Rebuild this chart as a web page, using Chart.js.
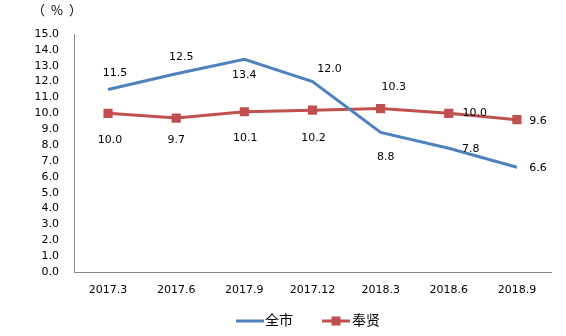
<!DOCTYPE html>
<html>
<head>
<meta charset="utf-8">
<script src="https://cdn.jsdelivr.net/npm/chart.js@4.4.0/dist/chart.umd.min.js"></script>
<style>
  html, body { margin: 0; padding: 0; background: #fff; }
  #wrap { width: 566px; height: 336px; }
</style>
</head>
<body>
<div id="wrap"><canvas id="c" width="566" height="336"></canvas></div>
<script>
// data
var months = ['2017.3', '2017.6', '2017.9', '2017.12', '2018.3', '2018.6', '2018.9'];
var cityVals = [11.5, 12.5, 13.4, 12.0, 8.8, 7.8, 6.6];     // 全市
var fengxianVals = [10.0, 9.7, 10.1, 10.2, 10.3, 10.0, 9.6]; // 奉贤
var seriesNames = ['全市', '奉贤'];
var unitLabel = '（%）';

// label nudges (px) per point, like the original layout
var cityOff = [[7, -16], [5, -17], [0, 16], [17, -12], [5, 25], [22, 1], [21, 1]];
var fxOff = [[2, 27], [0, 22], [1, 26], [1, 28], [13, -21], [26, 0], [21, 1]];

var blue = '#4F81BD';
var red = '#C0504D';
var numFont = '11px "DejaVu Sans"';

var labelPlugin = {
  id: 'labels',
  afterDatasetsDraw: function(chart) {
    var ctx = chart.ctx;
    ctx.save();
    ctx.font = numFont;
    ctx.fillStyle = '#000';
    ctx.textAlign = 'center';
    ctx.textBaseline = 'middle';
    var offs = [cityOff, fxOff];
    chart.data.datasets.forEach(function(ds, i) {
      chart.getDatasetMeta(i).data.forEach(function(pt, j) {
        ctx.fillText(ds.data[j].toFixed(1), pt.x + offs[i][j][0], pt.y + offs[i][j][1]);
      });
    });

    // unit text above the y axis
    ctx.font = '13px "Noto Sans CJK SC"';
    ctx.textAlign = 'left';
    ctx.letterSpacing = '6px';
    ctx.fillText(unitLabel, 32, chart.chartArea.top - 24);
    ctx.letterSpacing = '0px';

    // legend
    var ly = 321;
    var x0 = 236;
    ctx.lineWidth = 3;
    ctx.strokeStyle = blue;
    ctx.beginPath(); ctx.moveTo(x0, ly); ctx.lineTo(x0 + 28, ly); ctx.stroke();
    ctx.font = '14px "Noto Sans CJK SC"';
    ctx.fillStyle = '#000';
    ctx.fillText(seriesNames[0], x0 + 29, ly - 1);
    var x1 = 322;
    ctx.strokeStyle = red;
    ctx.beginPath(); ctx.moveTo(x1, ly); ctx.lineTo(x1 + 28, ly); ctx.stroke();
    ctx.fillStyle = red;
    ctx.fillRect(x1 + 14 - 4.5, ly - 4.5, 9, 9);
    ctx.fillStyle = '#000';
    ctx.fillText(seriesNames[1], x1 + 30, ly - 1);
    ctx.restore();
  }
};

new Chart(document.getElementById('c'), {
  type: 'line',
  data: {
    labels: months,
    datasets: [
      {
        label: seriesNames[0],
        data: cityVals,
        borderColor: blue,
        backgroundColor: blue,
        borderWidth: 3,
        pointRadius: 0,
        tension: 0
      },
      {
        label: seriesNames[1],
        data: fengxianVals,
        borderColor: red,
        backgroundColor: red,
        borderWidth: 3,
        pointStyle: 'rect',
        pointRadius: 6.5,
        pointBorderWidth: 0,
        tension: 0
      }
    ]
  },
  options: {
    responsive: false,
    animation: false,
    layout: { padding: { left: 0, right: 15, top: 34, bottom: 0 } },
    plugins: {
      legend: { display: false },
      tooltip: { enabled: false }
    },
    scales: {
      x: {
        offset: true,
        grid: { display: false, drawTicks: false },
        border: { display: true, color: '#868686', width: 1 },
        ticks: { color: '#000', font: { family: 'DejaVu Sans', size: 11 }, padding: 12, maxRotation: 0, autoSkip: false },
        afterFit: function(s) { s.height = 64; }
      },
      y: {
        min: 0,
        max: 15,
        grid: { display: false, drawTicks: false },
        border: { display: true, color: '#868686', width: 1 },
        ticks: {
          stepSize: 1,
          autoSkip: false,
          color: '#000',
          font: { family: 'DejaVu Sans', size: 11 },
          padding: 15,
          callback: function(v) { return v.toFixed(1); }
        },
        afterFit: function(s) { s.width = 74; }
      }
    }
  },
  plugins: [labelPlugin]
});
</script>
</body>
</html>
